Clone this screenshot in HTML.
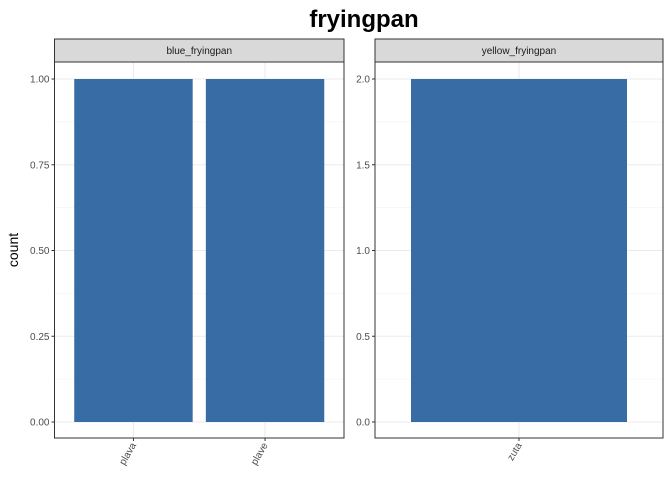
<!DOCTYPE html>
<html><head><meta charset="utf-8"><style>body{margin:0;background:#fff}svg{font-family:"Liberation Sans",Arial,sans-serif}</style></head>
<body>
<svg id="c" width="672" height="480"></svg>
<script>
const leftCats=["plava","plave"];
const leftVals=[1,1];
const leftTicks=[0,0.25,0.5,0.75,1.0];
const leftTickLabels=["0.00","0.25","0.50","0.75","1.00"];
const rightCats=["zuta"];
const rightVals=[2];
const rightTicks=[0,0.5,1.0,1.5,2.0];
const rightTickLabels=["0.0","0.5","1.0","1.5","2.0"];
const panelTitles=["blue_fryingpan","yellow_fryingpan"];

const NS="http://www.w3.org/2000/svg";
const svg=document.getElementById('c');
function mk(t,a,p){const e=document.createElementNS(NS,t);for(const k in a)e.setAttribute(k,a[k]);(p||svg).appendChild(e);return e;}

const title=mk('text',{x:364,y:27,'text-anchor':'middle','font-size':24,'font-weight':'bold',fill:'#000'});
title.textContent='fryingpan';


const yt=mk('text',{x:18,y:250,'text-anchor':'middle','font-size':14,fill:'#000',transform:'rotate(-90 18 250)'});
yt.textContent='count';



function panel(x0,x1,cats,vals,ticks,labels,max,name,ptitle){
  const top=62,bot=438,y0=422,y1=79;
  const g=mk('g',{});
  
  
  const ys=v=>y0-(v/max)*(y0-y1);
  const n=cats.length,bw=(x1-x0)/(n+0.2);
  const xs=i=>x0+bw*(0.6+i);
  mk('rect',{x:x0,y:top,width:x1-x0,height:bot-top,fill:'#fff'},g);
  // minor grid
  for(let i=0;i<ticks.length-1;i++){const m=ys((ticks[i]+ticks[i+1])/2);mk('line',{x1:x0,x2:x1,y1:m,y2:m,stroke:'#f0f0f0','stroke-width':0.6},g);}
  ticks.forEach((t,i)=>{const y=ys(t);mk('line',{x1:x0,x2:x1,y1:y,y2:y,stroke:'#ebebeb','stroke-width':1.1},g);
    mk('line',{x1:x0-3,x2:x0,y1:y,y2:y,stroke:'#333','stroke-width':1},g);
    const tl=mk('text',{x:x0-5,y:y+3.5,'text-anchor':'end','font-size':10,fill:'#4d4d4d'},g);tl.textContent=labels[i];
    
    });
  cats.forEach((c,i)=>{const cx=xs(i);mk('line',{x1:cx,x2:cx,y1:top,y2:bot,stroke:'#ebebeb','stroke-width':1.1},g);});
  cats.forEach((c,i)=>{const cx=xs(i);const w=bw*0.9;
    const b=mk('rect',{x:cx-w/2,y:ys(vals[i]),width:w,height:y0-ys(vals[i]),fill:'#386ca5'},g);
    
    
    mk('line',{x1:cx,x2:cx,y1:bot,y2:bot+3,stroke:'#333','stroke-width':1},g);
    const t=mk('text',{x:cx+3,y:bot+7,'text-anchor':'end','font-size':10,fill:'#4d4d4d',transform:`rotate(-60 ${cx+3} ${bot+7})`},g);t.textContent=c;
    
    });
  mk('rect',{x:x0,y:top,width:x1-x0,height:bot-top,fill:'none',stroke:'#333','stroke-width':1},g);
  const s=mk('rect',{x:x0,y:39,width:x1-x0,height:23,fill:'#d9d9d9',stroke:'#333','stroke-width':1},g);
  
  
  const st=mk('text',{x:(x0+x1)/2,y:54,'text-anchor':'middle','font-size':10,fill:'#1a1a1a'},g);st.textContent=ptitle;
  
  
}
panel(54.5,344,leftCats,leftVals,leftTicks,leftTickLabels,1,'panel-blue-fryingpan',panelTitles[0]);
panel(375,663,rightCats,rightVals,rightTicks,rightTickLabels,2,'panel-yellow-fryingpan',panelTitles[1]);
</script>
</body></html>
